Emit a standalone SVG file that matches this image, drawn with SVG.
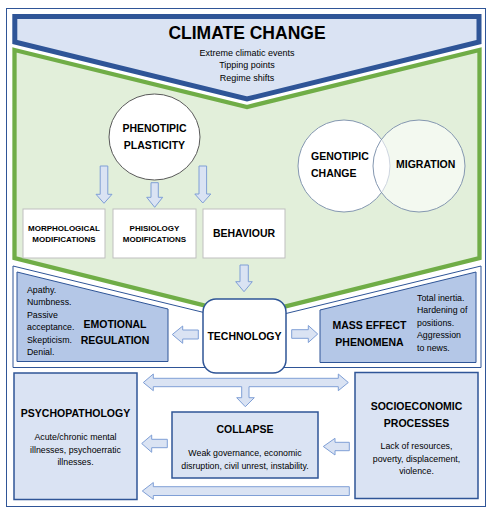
<svg xmlns="http://www.w3.org/2000/svg" width="494" height="515" viewBox="0 0 494 515">
<style>
text{font-family:"Liberation Sans",Arial,sans-serif;fill:#000}
.b{font-weight:bold}
.c{text-anchor:middle}
.s{font-size:8.8px}
.h{font-size:10.5px;font-weight:bold}
.ar{fill:#DAE3F3;stroke:#7F9FD6;stroke-width:1}
.wbox{fill:#fff;stroke:#BFBFBF;stroke-width:1}
.dbox{fill:#DAE3F3;stroke:#2F5597;stroke-width:1.5}
.pent{fill:#B4C7E7;stroke:#2F5597;stroke-width:1}
.frame{fill:none;stroke:#2F5597;stroke-width:1}
</style>
<rect x="0" y="0" width="494" height="515" fill="#fff"/>
<rect class="frame" x="6.5" y="8.5" width="479" height="498"/>
<g id="climate-change">
<path d="M14.8,16.5 H479 V42 L247,99 L14.8,42 Z" fill="#DAE3F3" stroke="#2F5597" stroke-width="5" stroke-linejoin="miter"/>
<text class="b c" x="247" y="39" font-size="17.5">CLIMATE CHANGE</text>
<text class="c" x="247" y="55.5" font-size="9">Extreme climatic events</text>
<text class="c" x="247" y="68" font-size="9">Tipping points</text>
<text class="c" x="247" y="80.5" font-size="9">Regime shifts</text>
</g>
<g id="adaptation-zone">
<path d="M14.5,50 L247,107 L479.5,50 V258 L247,316 L14.5,258 Z" fill="#E2EFDA" stroke="#70AD47" stroke-width="4.3"/>
</g>
<g id="lower-frame">
<path class="frame" d="M13,266 L247,323 L481,266 V367.5 H13 Z"/>
</g>
<g id="phenotipic-plasticity">
<ellipse cx="154.5" cy="137" rx="45.5" ry="43" fill="#fff" stroke="#595959" stroke-width="1"/>
<text class="h c" x="154.5" y="132.3">PHENOTIPIC</text>
<text class="h c" x="154.5" y="149">PLASTICITY</text>
</g>
<g id="genotipic-change">
<circle cx="344" cy="166" r="46" fill="#fff" stroke="#8497B0" stroke-width="1"/>
</g>
<g id="migration">
<circle cx="419" cy="166" r="46" fill="#fff" fill-opacity="0.6" stroke="#8497B0" stroke-width="1"/>
<text class="h" x="396" y="168.3">MIGRATION</text>
</g>
<text class="h" x="311" y="160">GENOTIPIC</text>
<text class="h" x="311" y="176.5">CHANGE</text>
<g id="morphological">
<rect class="wbox" x="23" y="209" width="82" height="49"/>
<text class="b c" x="64" y="231" font-size="8">MORPHOLOGICAL</text>
<text class="b c" x="64" y="241.5" font-size="8">MODIFICATIONS</text>
</g>
<g id="phisiology">
<rect class="wbox" x="113" y="209" width="83" height="49"/>
<text class="b c" x="154.5" y="231" font-size="8">PHISIOLOGY</text>
<text class="b c" x="154.5" y="241.5" font-size="8">MODIFICATIONS</text>
</g>
<g id="behaviour">
<rect class="wbox" x="203" y="209" width="82" height="49"/>
<text class="h c" x="244" y="237.3">BEHAVIOUR</text>
</g>
<g id="emotional-regulation">
<path class="pent" d="M17,272 L168,309 V361.5 H17 Z"/>
<text class="s" x="27" y="292.7">Apathy.</text>
<text class="s" x="27" y="305.2">Numbness.</text>
<text class="s" x="27" y="317.7">Passive</text>
<text class="s" x="27" y="330.2">acceptance.</text>
<text class="s" x="27" y="342.7">Skepticism.</text>
<text class="s" x="27" y="355.2">Denial.</text>
<text class="h c" x="115" y="328.3">EMOTIONAL</text>
<text class="h c" x="115" y="344.3">REGULATION</text>
</g>
<g id="mass-effect">
<path class="pent" d="M320,310 L476,272 V362.5 H320 Z"/>
<text class="h c" x="369.5" y="329.3">MASS EFFECT</text>
<text class="h c" x="369.5" y="346">PHENOMENA</text>
<text class="s" x="417" y="300.5">Total inertia.</text>
<text class="s" x="417" y="313">Hardening of</text>
<text class="s" x="417" y="325.5">positions.</text>
<text class="s" x="417" y="338">Aggression</text>
<text class="s" x="417" y="350.5">to news.</text>
</g>
<g id="technology">
<rect x="203" y="299" width="83" height="74" rx="13" ry="13" fill="#fff" stroke="#2F5597" stroke-width="1.5"/>
<text class="h c" x="244.5" y="340">TECHNOLOGY</text>
</g>
<g id="psychopathology">
<rect class="dbox" x="14" y="373" width="123" height="126.5"/>
<text class="h c" x="75.5" y="416.7">PSYCHOPATHOLOGY</text>
<text class="s c" x="75.5" y="440">Acute/chronic mental</text>
<text class="s c" x="75.5" y="452.5">illnesses, psychoerratic</text>
<text class="s c" x="75.5" y="465">illnesses.</text>
</g>
<g id="collapse">
<rect class="dbox" x="172" y="412" width="146" height="66"/>
<text class="h c" x="245" y="433.3">COLLAPSE</text>
<text class="s c" x="245" y="456">Weak governance, economic</text>
<text class="s c" x="245" y="468.5">disruption, civil unrest, instability.</text>
</g>
<g id="socioeconomic">
<rect class="dbox" x="355" y="372.5" width="123" height="126"/>
<text class="h c" x="416.5" y="410">SOCIOECONOMIC</text>
<text class="h c" x="416.5" y="426.7">PROCESSES</text>
<text class="s c" x="416.5" y="449">Lack of resources,</text>
<text class="s c" x="416.5" y="461.5">poverty, displacement,</text>
<text class="s c" x="416.5" y="474">violence.</text>
</g>
<g id="connectors">
<path class="ar" d="M100.2,166 H107.8 V194.3 H112 L104,203.3 L96,194.3 H100.2 Z"/>
<path class="ar" d="M151,182.7 H158.3 V197.3 H162.7 L154.7,207.3 L146.7,197.3 H151 Z"/>
<path class="ar" d="M199,166 H206.6 V194 H210.8 L202.8,203 L194.8,194 H199 Z"/>
<path class="ar" d="M240,265 H248.3 V281.7 H252.3 L244,291.7 L235.7,281.7 H240 Z"/>
<path class="ar" d="M198.3,330 V339 H182.7 V343.3 L172.3,334.5 L182.7,326 V330 Z"/>
<path class="ar" d="M291.7,329.7 H308.3 V325.5 L317.7,334 L308.3,342.5 V338.3 H291.7 Z"/>
<path class="ar" d="M143.3,382.5 L153.3,374 V378.3 H338.3 V374 L348.3,382.5 L338.3,390.7 V386.7 H249 V397.7 H254.3 L245.3,406.7 L236.7,397.7 H241.7 V386.7 H153.3 V390.7 Z"/>
<path class="ar" d="M167.3,439.3 V447.7 H151.7 V452.3 L141.7,443.5 L151.7,435 V439.3 Z"/>
<path class="ar" d="M349.3,442.3 V450.7 H335 V455 L323.3,446.5 L335,438.3 V442.3 Z"/>
<path class="ar" d="M349.3,486.7 V495.5 H153.3 V499.3 L142.3,491 L153.3,482.5 V486.7 Z"/>
</g>
</svg>
